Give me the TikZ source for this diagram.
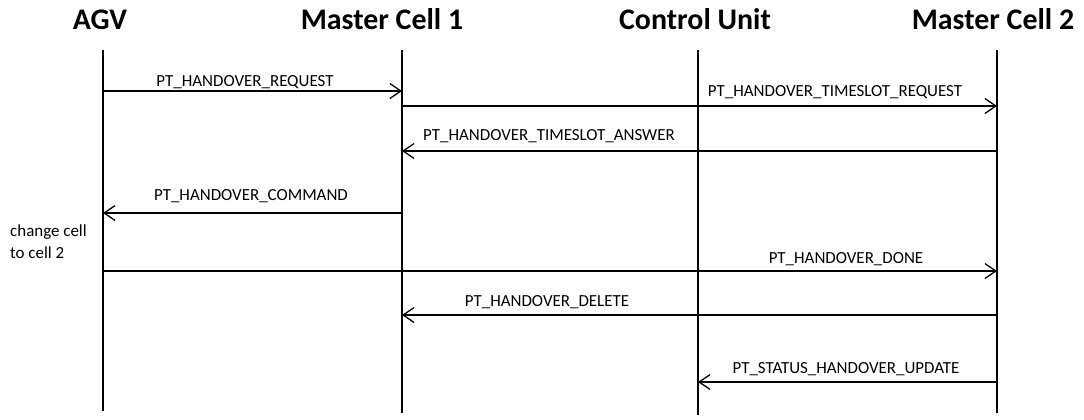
\documentclass[tikz,border=0pt]{standalone}
\usepackage{fontspec}
\setmainfont{Carlito}
\usetikzlibrary{arrows.meta}
\tikzset{
  lifeline/.style={line width=1.3pt},
  msg/.style={line width=1.3pt, -{Straight Barb[length=11pt,width=15pt,line width=1.3pt]}},
  head/.style={font=\fontsize{30}{36}\selectfont\bfseries, anchor=base, inner sep=0pt},
  lbl/.style={font=\fontsize{17}{20}\selectfont, anchor=base, inner sep=0pt},
  note/.style={font=\fontsize{17}{21.5}\selectfont, anchor=base west, inner sep=0pt, align=left}
}
\begin{document}
\begin{tikzpicture}[x=1bp,y=-1bp]
\useasboundingbox (0,0) rectangle (1084,419);
% participants
\node[head] (hAGV) at (100,29) {AGV};
\node[head] (hMC1) at (382,29) {Master Cell 1};
\node[head] (hCU)  at (695,29) {Control Unit};
\node[head] (hMC2) at (993,29) {Master Cell 2};
% lifelines
\coordinate (agvT) at (103,50);  \coordinate (agvB) at (103,411);
\coordinate (mc1T) at (402,50);  \coordinate (mc1B) at (402,413);
\coordinate (cuT)  at (698,50);  \coordinate (cuB)  at (698,415);
\coordinate (mc2T) at (997,50);  \coordinate (mc2B) at (997,413);
\draw[lifeline] (agvT) -- (agvB);
\draw[lifeline] (mc1T) -- (mc1B);
\draw[lifeline] (cuT)  -- (cuB);
\draw[lifeline] (mc2T) -- (mc2B);
% messages
\draw[msg] (agvT |- 0,91)  -- (mc1T |- 0,91);
\node[lbl] (l1) at (245,86) {PT\_HANDOVER\_REQUEST};
\draw[msg] (mc1T |- 0,106) -- (mc2T |- 0,106);
\node[lbl] (l2) at (835,96) {PT\_HANDOVER\_TIMESLOT\_REQUEST};
\draw[msg] (mc2T |- 0,151) -- (mc1T |- 0,151);
\node[lbl] (l3) at (549,140) {PT\_HANDOVER\_TIMESLOT\_ANSWER};
\draw[msg] (mc1T |- 0,213) -- (agvT |- 0,213);
\node[lbl] (l4) at (251,200) {PT\_HANDOVER\_COMMAND};
% note beside the AGV lifeline (base anchor sits on the last line)
\node[note] (n1) at (10,258) {change cell\\to cell 2};
\draw[msg] (agvT |- 0,271) -- (mc2T |- 0,271);
\node[lbl] (l5) at (846,263) {PT\_HANDOVER\_DONE};
\draw[msg] (mc2T |- 0,315) -- (mc1T |- 0,315);
\node[lbl] (l6) at (547,306) {PT\_HANDOVER\_DELETE};
\draw[msg] (mc2T |- 0,382) -- (cuT |- 0,382);
\node[lbl] (l7) at (846,373) {PT\_STATUS\_HANDOVER\_UPDATE};
\end{tikzpicture}
\end{document}
